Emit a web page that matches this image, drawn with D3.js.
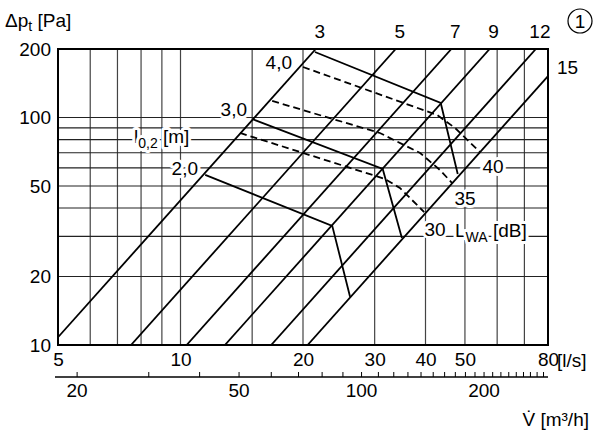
<!DOCTYPE html>
<html>
<head>
<meta charset="utf-8">
<script src="https://cdn.jsdelivr.net/npm/d3@7"></script>
<style>
  body { margin: 0; background: #fff; }
  svg text { font-family: "Liberation Sans", Arial, sans-serif; font-size: 19px; fill: #000; }
  .halo { paint-order: stroke; stroke: #fff; stroke-width: 6px; stroke-linejoin: round; }
</style>
</head>
<body>
<svg id="chart" width="600" height="436"></svg>
<script>
// flow axis (l/s)
const flowTicks = [5, 10, 20, 30, 40, 50, 80];
const flowGrid = [6, 7, 8, 9, 10, 15, 20, 30, 40, 50, 60, 70];
// pressure axis (Pa)
const pressTicks = [10, 20, 50, 100, 200];
const pressGrid = [20, 30, 40, 50, 60, 70, 80, 90, 100];
// second flow axis (m3/h)
const m3hTicks = d3.range(20, 290, 10);
const m3hLabels = [20, 50, 100, 200];

// size lines: name and flow (l/s) where the line reaches 200 Pa
const sizes = ["3", "5", "7", "9", "12", "15"];
const sizeFlow200 = [21.5, 33.8, 46.3, 57.5, 74.7, 91.8];

// throw length l0,2 lines, points [l/s, Pa]
const throwNames = ["2,0", "3,0", "4,0"];
const throw20 = [[11.5, 55.9], [23.6, 33.4], [26.1, 16.3]];
const throw30 = [[15.0, 98.5], [31.4, 59.4], [35.0, 29.5]];
const throw40 = [[21.4, 194], [43.6, 115.8], [48.0, 56.4]];

// sound power lines LWA, points [l/s, Pa]
const soundNames = ["30", "35", "40"];
const sound30 = [[14.0, 85.5], [31.8, 53.7], [34.6, 49.0], [39.7, 38.4]];
const sound35 = [[16.8, 118.2], [30.9, 85.5], [38.8, 69.8], [43.4, 58.8], [46.5, 51.5]];
const sound40 = [[20.0, 166.7], [42.7, 102.6], [47.3, 89.9], [54.4, 70.5]];

const svg = d3.select("#chart");
const pl = 58, pr = 548, pt = 49, pb = 345;

const x = d3.scaleLog().domain([5, 80]).range([pl, pr]);
const y = d3.scaleLog().domain([10, 200]).range([pb, pt]);
const x2 = d3.scaleLog().domain([5 * 3.6, 80 * 3.6]).range([pl, pr]);

svg.append("clipPath").attr("id", "plot")
  .append("rect")
  .attr("x", pl).attr("y", pt)
  .attr("width", pr - pl).attr("height", pb - pt);

// grid
svg.append("g").selectAll("line")
  .data(flowGrid)
  .enter().append("line")
  .attr("x1", d => x(d)).attr("x2", d => x(d))
  .attr("y1", pt).attr("y2", pb)
  .attr("stroke", "#444").attr("stroke-width", 1.2);

svg.append("g").selectAll("line")
  .data(pressGrid)
  .enter().append("line")
  .attr("x1", pl).attr("x2", pr)
  .attr("y1", d => y(d)).attr("y2", d => y(d))
  .attr("stroke", "#222").attr("stroke-width", 1.2);

const lines = svg.append("g").attr("clip-path", "url(#plot)");

// size lines: dp ~ V^2
lines.selectAll("line.size")
  .data(sizeFlow200)
  .enter().append("line")
  .attr("class", "size")
  .attr("x1", d => x(d * Math.sqrt(10 / 200)))
  .attr("y1", y(10))
  .attr("x2", d => x(d))
  .attr("y2", y(200))
  .attr("stroke", "#000").attr("stroke-width", 1.8);

const path = d3.line().x(d => x(d[0])).y(d => y(d[1]));

lines.selectAll("path.throw")
  .data([throw20, throw30, throw40])
  .enter().append("path")
  .attr("class", "throw")
  .attr("d", path)
  .attr("fill", "none").attr("stroke", "#000").attr("stroke-width", 1.8);

lines.selectAll("path.sound")
  .data([sound30, sound35, sound40])
  .enter().append("path")
  .attr("class", "sound")
  .attr("d", path)
  .attr("fill", "none").attr("stroke", "#000").attr("stroke-width", 1.8)
  .attr("stroke-dasharray", "7,4");

// frame
svg.append("rect")
  .attr("x", pl).attr("y", pt)
  .attr("width", pr - pl).attr("height", pb - pt)
  .attr("fill", "none").attr("stroke", "#000").attr("stroke-width", 2);

// axes
const xAxis = svg.append("g")
  .attr("transform", "translate(0," + pb + ")")
  .call(d3.axisBottom(x).tickValues(flowTicks).tickSize(0).tickPadding(8).tickFormat(d3.format("d")));
xAxis.select(".domain").remove();

const yAxis = svg.append("g")
  .attr("transform", "translate(" + pl + ",0)")
  .call(d3.axisLeft(y).tickValues(pressTicks).tickSize(0).tickPadding(7).tickFormat(d3.format("d")));
yAxis.select(".domain").remove();

const x2Axis = svg.append("g")
  .attr("transform", "translate(0,377)")
  .call(d3.axisBottom(x2).tickValues(m3hTicks).tickSize(-5).tickSizeOuter(0).tickPadding(7)
    .tickFormat(d => m3hLabels.includes(d) ? d : ""));
x2Axis.select(".domain").attr("d", "M55,0H548").attr("stroke-width", 1.6);
x2Axis.selectAll(".tick line").attr("stroke-width", 1);

svg.selectAll("g text").style("font-size", "19px").style("font-family", "'Liberation Sans', Arial, sans-serif");

svg.append("text").attr("x", 557).attr("y", 367).text("[l/s]");

// size labels
svg.append("g").selectAll("text")
  .data(sizes.slice(0, 5))
  .enter().append("text")
  .attr("x", (d, i) => x(sizeFlow200[i]) + 4)
  .attr("y", 38)
  .attr("text-anchor", "middle")
  .text(d => d);
svg.append("text")
  .attr("x", 557)
  .attr("y", y(200 * Math.pow(80 / sizeFlow200[5], 2)) - 2)
  .text(sizes[5]);

// throw labels
const throwPos = [[198, 175], [247, 116], [292, 69]];
svg.append("g").selectAll("text")
  .data(throwNames)
  .enter().append("text")
  .attr("class", "halo")
  .attr("x", (d, i) => throwPos[i][0])
  .attr("y", (d, i) => throwPos[i][1])
  .attr("text-anchor", "end")
  .text(d => d);

const lt = svg.append("text").attr("class", "halo").attr("x", 134).attr("y", 143);
lt.append("tspan").text("l");
lt.append("tspan").attr("dy", 5).style("font-size", "14px").text("0,2");
lt.append("tspan").attr("dy", -5).text(" [m]");

// sound labels
const soundPos = [[435, 236], [465, 205], [493, 173]];
svg.append("g").selectAll("text")
  .data(soundNames)
  .enter().append("text")
  .attr("class", "halo")
  .attr("x", (d, i) => soundPos[i][0])
  .attr("y", (d, i) => soundPos[i][1])
  .attr("text-anchor", "middle")
  .text(d => d);

const lw = svg.append("text").attr("class", "halo").attr("x", 455).attr("y", 237);
lw.append("tspan").text("L");
lw.append("tspan").attr("dy", 5).style("font-size", "14px").text("WA");
lw.append("tspan").attr("dy", -5).text(" [dB]");

// titles
const ty = svg.append("text").attr("x", 5).attr("y", 27);
ty.append("tspan").text("\u0394p");
ty.append("tspan").attr("dy", 4).style("font-size", "14px").text("t");
ty.append("tspan").attr("dy", -4).text(" [Pa]");

svg.append("text").attr("x", 589).attr("y", 426).attr("text-anchor", "end").text("V\u0307 [m\u00b3/h]");

svg.append("circle").attr("cx", 580).attr("cy", 21).attr("r", 12)
  .attr("fill", "none").attr("stroke", "#000").attr("stroke-width", 1.2);
svg.append("text").attr("x", 580).attr("y", 28).attr("text-anchor", "middle").text("1");
</script>
</body>
</html>
